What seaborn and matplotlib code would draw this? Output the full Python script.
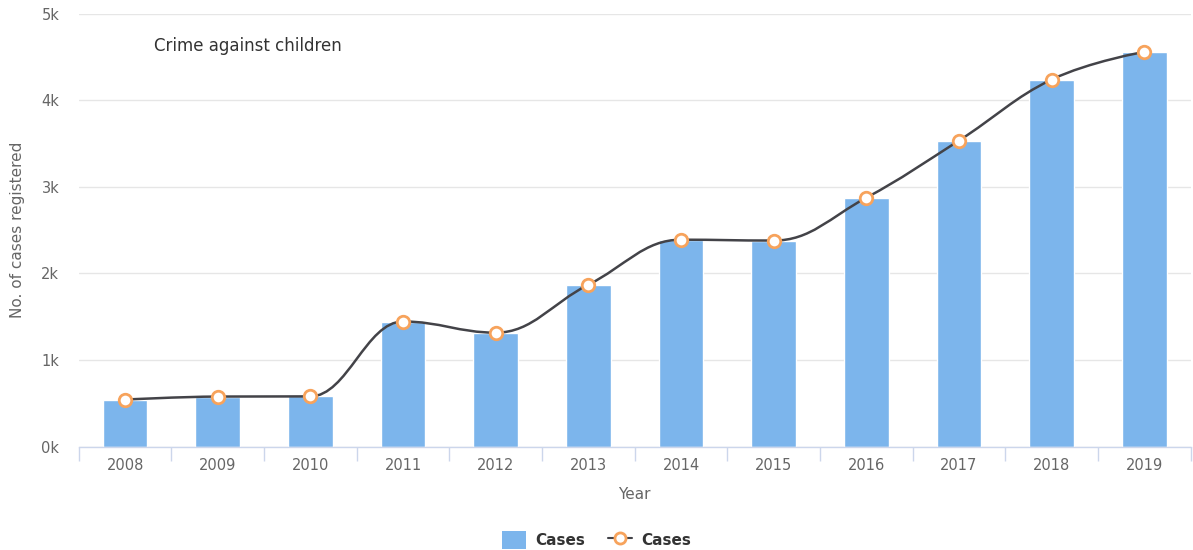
import numpy as np
import pandas as pd
import seaborn as sns
import matplotlib.pyplot as plt
from matplotlib.path import Path
from matplotlib.patches import PathPatch, Patch
from matplotlib.lines import Line2D
from matplotlib.ticker import FuncFormatter

# data
years = ['2008', '2009', '2010', '2011', '2012', '2013',
         '2014', '2015', '2016', '2017', '2018', '2019']
cases = [543, 578, 580, 1445, 1316, 1870, 2390, 2380, 2875, 3535, 4240, 4560]

df = pd.DataFrame({'Year': years, 'Cases': cases})

BAR = '#7cb5ec'
LINE = '#434348'
ORANGE = '#f7a35c'
GRID = '#e6e6e6'
AXIS = '#ccd6eb'

sns.set_style('white')
plt.rcParams['font.family'] = ['DejaVu Sans']

fig = plt.figure(figsize=(11.93, 5.5), dpi=100)
ax = fig.add_axes([0.066, 0.188, 0.932, 0.787])

sns.barplot(data=df, x='Year', y='Cases', color=BAR, width=0.48,
            saturation=1, ax=ax, zorder=2)


def spline_path(xs, ys, smoothing=1.5, denom=2.5):
    # Highcharts-style spline as cubic bezier segments
    n = len(xs)
    left = [(xs[i], ys[i]) for i in range(n)]
    right = [(xs[i], ys[i]) for i in range(n)]
    for i in range(1, n - 1):
        x, y = xs[i], ys[i]
        lx, ly = xs[i - 1], ys[i - 1]
        nx, ny = xs[i + 1], ys[i + 1]
        lcx = (smoothing * x + lx) / denom
        lcy = (smoothing * y + ly) / denom
        rcx = (smoothing * x + nx) / denom
        rcy = (smoothing * y + ny) / denom
        if rcx != lcx:
            corr = ((rcy - lcy) * (rcx - x)) / (rcx - lcx) + y - rcy
            lcy += corr
            rcy += corr
        if lcy > ly and lcy > y:
            lcy = max(ly, y)
            rcy = 2 * y - lcy
        elif lcy < ly and lcy < y:
            lcy = min(ly, y)
            rcy = 2 * y - lcy
        if rcy > ny and rcy > y:
            rcy = max(ny, y)
            lcy = 2 * y - rcy
        elif rcy < ny and rcy < y:
            rcy = min(ny, y)
            lcy = 2 * y - rcy
        left[i] = (lcx, lcy)
        right[i] = (rcx, rcy)
    verts = [(xs[0], ys[0])]
    codes = [Path.MOVETO]
    for i in range(1, n):
        verts += [right[i - 1], left[i], (xs[i], ys[i])]
        codes += [Path.CURVE4] * 3
    return Path(verts, codes)


xpos = np.arange(len(years))
ax.add_patch(PathPatch(spline_path(list(xpos), cases), facecolor='none',
                       edgecolor=LINE, lw=1.8, zorder=3))
ax.plot(xpos, cases, ls='none', marker='o', ms=9, mfc='white', mec=ORANGE,
        mew=2, zorder=4)

ax.set_xlim(-0.5, len(years) - 0.5)
ax.set_ylim(0, 5000)
ax.set_yticks([0, 1000, 2000, 3000, 4000, 5000])
ax.yaxis.set_major_formatter(FuncFormatter(lambda v, p: f'{v / 1000:.0f}k'))
ax.yaxis.grid(True, color=GRID, lw=1, zorder=0)
ax.set_axisbelow(True)

for s in ['top', 'right', 'left']:
    ax.spines[s].set_visible(False)
ax.spines['bottom'].set_color(AXIS)
ax.spines['bottom'].set_linewidth(1)

ax.set_xticks(xpos)
ax.set_xticklabels(years)
ax.set_xticks(np.arange(-0.5, len(years) + 0.5, 1), minor=True)
ax.tick_params(axis='x', which='both', bottom=True)
ax.tick_params(axis='x', which='major', length=0, pad=8, labelsize=10.5,
               labelcolor='#666666')
ax.tick_params(axis='x', which='minor', length=10, color=AXIS, width=1)
ax.tick_params(axis='y', length=0, pad=14, labelsize=10.5, labelcolor='#666666')

ax.set_xlabel('Year', fontsize=11, color='#666666', labelpad=10)
ax.set_ylabel('No. of cases registered', fontsize=11, color='#666666',
              labelpad=12)

ax.text(0.068, 0.925, 'Crime against children', transform=ax.transAxes,
        fontsize=12, color='#333333', ha='left', va='center')

handles = [Patch(facecolor=BAR, edgecolor='none'),
           Line2D([0], [0], color=LINE, lw=1.5, marker='o',
                  ms=8, mfc='white', mec=ORANGE, mew=2)]
leg = fig.legend(handles, ['Cases', 'Cases'], loc='center',
                 bbox_to_anchor=(0.5, 0.018), ncol=2, frameon=False,
                 prop={'weight': 'bold', 'size': 11}, handlelength=1.6,
                 handleheight=1.4, columnspacing=1.5, handletextpad=0.6)
for t in leg.get_texts():
    t.set_color('#333333')

fig.savefig('out.png', dpi=100)
